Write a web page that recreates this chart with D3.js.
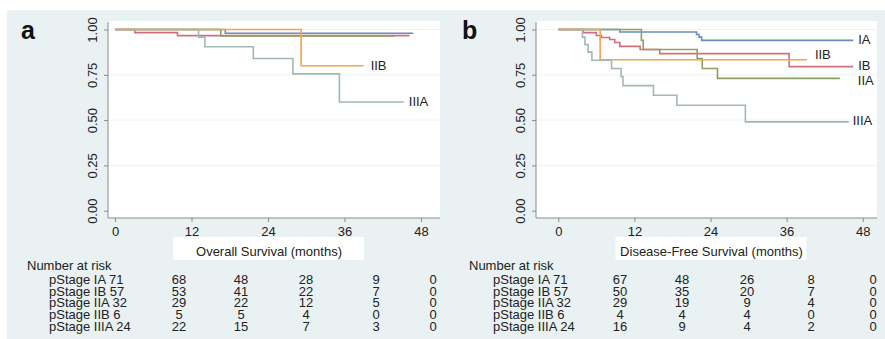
<!DOCTYPE html>
<html>
<head>
<meta charset="utf-8">
<script src="https://cdn.jsdelivr.net/npm/d3@7"></script>
<style>
  body { margin: 0; background: #fff; }
  svg { display: block; font-family: "Liberation Sans", Arial, sans-serif; }
</style>
</head>
<body>
<div id="chart"></div>
<script>
// stage order, drawing order and colours
const stages = ['IA', 'IB', 'IIA', 'IIB', 'IIIA'];
const colors = ['#6b8cc0', '#d0707f', '#8fa05f', '#f7a44a', '#a2b9b2'];

// Kaplan-Meier step points: [month, survival]
const osIA = [[0, 1], [17.3, 0.979], [46.8, 0.979]];
const osIB = [[0, 1], [3.1, 0.983], [9.8, 0.966], [46.2, 0.966]];
const osIIA = [[0, 1], [16.6, 0.964], [43.8, 0.964]];
const osIIB = [[0, 1], [29.2, 0.8], [39, 0.8]];
const osIIIA = [[0, 1], [13.1, 0.958], [14.1, 0.905], [21.7, 0.84], [27.9, 0.755], [35.2, 0.6], [45.3, 0.6]];

const dfsIA = [[0, 1], [9.7, 0.986], [21.8, 0.972], [22.2, 0.958], [22.6, 0.94], [46.5, 0.94]];
const dfsIB = [[0, 1], [3.9, 0.983], [6, 0.967], [6.8, 0.956], [8.1, 0.945], [8.9, 0.928], [9.7, 0.907],
               [12.9, 0.89], [16, 0.867], [36.4, 0.795], [46.5, 0.795]];
const dfsIIA = [[0, 1], [13.1, 0.94], [13.4, 0.89], [21.9, 0.84], [22.7, 0.785], [25.1, 0.73], [44.4, 0.73]];
const dfsIIB = [[0, 1], [6.6, 0.833], [39.2, 0.833]];
const dfsIIIA = [[0, 1], [3.8, 0.958], [4.2, 0.917], [4.7, 0.875], [5.3, 0.83], [8.4, 0.785], [9.9, 0.74],
                 [10.2, 0.69], [15, 0.637], [18.7, 0.582], [29.5, 0.49], [45.8, 0.49]];

// axis ticks
const monthTicks = [0, 12, 24, 36, 48];
const survTicks = [0, 0.25, 0.5, 0.75, 1];

// number at risk tables
const riskRows = ['pStage IA 71', 'pStage IB 57', 'pStage IIA 32', 'pStage IIB 6', 'pStage IIIA 24'];
const osRisk = [[68, 48, 28, 9, 0], [53, 41, 22, 7, 0], [29, 22, 12, 5, 0], [5, 5, 4, 0, 0], [22, 15, 7, 3, 0]];
const dfsRisk = [[67, 48, 26, 8, 0], [50, 35, 20, 7, 0], [29, 19, 9, 4, 0], [4, 4, 4, 0, 0], [16, 9, 4, 2, 0]];

// end-of-curve labels
const osLabels = ['IIB', 'IIIA'];
const dfsLabels = ['IA', 'IIB', 'IB', 'IIA', 'IIIA'];

const width = 885, height = 339;

const svg = d3.select('#chart').append('svg')
    .attr('width', width)
    .attr('height', height);

// light graph region
svg.append('rect')
    .attr('x', 7).attr('y', 10)
    .attr('width', width - 7).attr('height', height - 10)
    .attr('fill', '#e9f1f3');

const panels = [
  { letter: 'a', left: 108, right: 440, x0: 115, x48: 421, letterX: 21,
    curves: [osIA, osIB, osIIA, osIIB, osIIIA], labels: osLabels,
    labelOff: { IIB: [7, 0], IIIA: [5, -1] },
    xTitle: 'Overall Survival (months)', risk: osRisk,
    riskLeft: 27, rowLeft: 49, riskCols: [179, 241, 306, 376, 433] },
  { letter: 'b', left: 536, right: 877, x0: 558.3, x48: 862.7, letterX: 462,
    curves: [dfsIA, dfsIB, dfsIIA, dfsIIB, dfsIIIA], labels: dfsLabels,
    labelOff: { IA: [5, -1], IIB: [8, -5], IB: [5, -1], IIA: [18, 2], IIIA: [4, -1] },
    xTitle: 'Disease-Free Survival (months)', risk: dfsRisk,
    riskLeft: 469, rowLeft: 493, riskCols: [620, 682, 747, 811, 873] }
];

const plotTop = 21, plotBottom = 218;
const y = d3.scaleLinear().domain([0, 1]).range([210.7, 29.5]);

panels.forEach(function(p) {
  const x = d3.scaleLinear().domain([0, 48]).range([p.x0, p.x48]);
  const g = svg.append('g');

  // plot region
  g.append('rect')
      .attr('x', p.left).attr('y', plotTop)
      .attr('width', p.right - p.left).attr('height', plotBottom - plotTop)
      .attr('fill', '#fff');

  // grid lines
  g.selectAll('.grid')
      .data(survTicks.filter(function(d) { return d > 0; }))
    .enter().append('line')
      .attr('x1', p.left + 1).attr('x2', p.right)
      .attr('y1', function(d) { return y(d); })
      .attr('y2', function(d) { return y(d); })
      .attr('stroke', '#edf2f4')
      .attr('stroke-width', 1);

  // axes
  const yAxis = g.append('g')
      .attr('transform', 'translate(' + p.left + ',0)')
      .call(d3.axisLeft(y).tickValues(survTicks).tickFormat(d3.format('.2f')).tickSize(4));
  const xAxis = g.append('g')
      .attr('transform', 'translate(0,' + plotBottom + ')')
      .call(d3.axisBottom(x).tickValues(monthTicks).tickSize(4));
  [yAxis, xAxis].forEach(function(a) {
    a.select('.domain').remove();
    a.selectAll('line').attr('stroke', '#8a8a8a');
    a.selectAll('text').attr('fill', '#222').style('font-size', '13px')
        .style('font-family', '"Liberation Sans", Arial, sans-serif');
  });
  yAxis.selectAll('text')
      .attr('transform', 'rotate(-90)')
      .attr('text-anchor', 'middle')
      .attr('x', 0).attr('y', -11).attr('dy', 0);
  xAxis.selectAll('text').attr('y', 8.5);

  g.append('line')
      .attr('x1', p.left).attr('x2', p.left)
      .attr('y1', plotTop + 1).attr('y2', plotBottom)
      .attr('stroke', '#8a8a8a');
  g.append('line')
      .attr('x1', p.left).attr('x2', p.right)
      .attr('y1', plotBottom).attr('y2', plotBottom)
      .attr('stroke', '#8a8a8a');

  // survival curves
  const line = d3.line()
      .x(function(d) { return x(d[0]); })
      .y(function(d) { return y(d[1]); })
      .curve(d3.curveStepAfter);

  g.selectAll('.km')
      .data(p.curves)
    .enter().append('path')
      .attr('d', line)
      .attr('fill', 'none')
      .attr('stroke', function(d, i) { return colors[i]; })
      .attr('stroke-width', 1.6);

  // curve labels
  p.labels.forEach(function(s) {
    const c = p.curves[stages.indexOf(s)];
    const end = c[c.length - 1];
    g.append('text')
        .attr('x', x(end[0]) + p.labelOff[s][0])
        .attr('y', y(end[1]) + p.labelOff[s][1])
        .attr('dy', '0.35em')
        .attr('fill', '#222')
        .style('font-size', '13px')
        .text(s);
  });

  // panel letter
  g.append('text')
      .attr('x', p.letterX).attr('y', 39)
      .style('font-size', '25px').style('font-weight', 'bold')
      .attr('fill', '#111')
      .text(p.letter);

  // x title box
  g.append('rect')
      .attr('x', x(24) - 95).attr('y', 237)
      .attr('width', 191).attr('height', 23)
      .attr('fill', '#fff');
  g.append('text')
      .attr('x', x(24) + 1).attr('y', 255.5)
      .attr('text-anchor', 'middle')
      .attr('fill', '#222')
      .style('font-size', '13px')
      .text(p.xTitle);

  // number at risk
  const rowY = d3.scaleLinear().domain([0, 1]).range([284, 295.7]);
  g.append('text')
      .attr('x', p.riskLeft).attr('y', 269.5)
      .attr('fill', '#222').style('font-size', '13px')
      .text('Number at risk');
  g.selectAll('.rowlab')
      .data(riskRows)
    .enter().append('text')
      .attr('x', p.rowLeft)
      .attr('y', function(d, i) { return rowY(i); })
      .attr('fill', '#222').style('font-size', '13px')
      .text(function(d) { return d; });
  p.risk.forEach(function(row, i) {
    g.selectAll('.n' + i)
        .data(row)
      .enter().append('text')
        .attr('x', function(d, j) { return p.riskCols[j]; })
        .attr('y', rowY(i))
        .attr('text-anchor', 'middle')
        .attr('fill', '#222').style('font-size', '13px')
        .text(function(d) { return d; });
  });
});
</script>
</body>
</html>
